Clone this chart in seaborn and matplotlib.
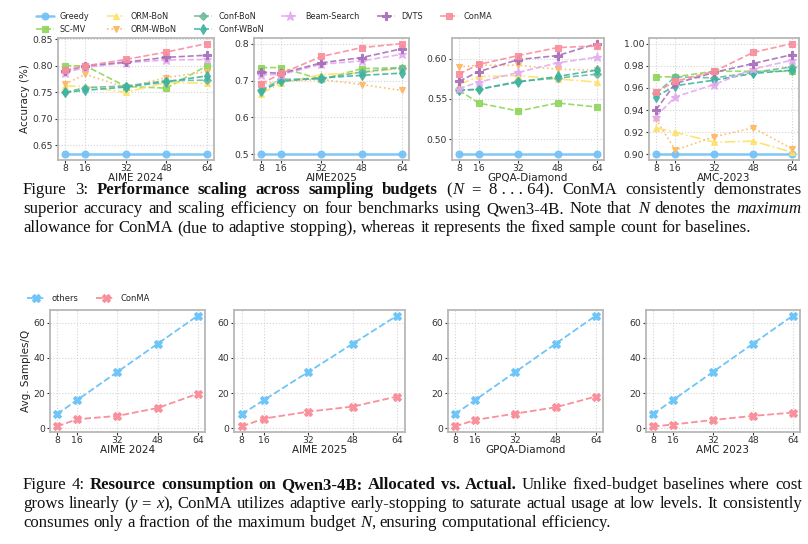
import matplotlib
matplotlib.use("Agg")
import matplotlib.pyplot as plt
import seaborn as sns

# ---------------- data ----------------
budgets = [8, 16, 32, 48, 64]
methods = ["Greedy", "SC-MV", "ORM-BoN", "ORM-WBoN", "Conf-BoN",
           "Conf-WBoN", "Beam-Search", "DVTS", "ConMA"]

acc_aime24 = [
    [0.633, 0.633, 0.633, 0.633, 0.633],
    [0.800, 0.800, 0.761, 0.758, 0.800],
    [0.762, 0.761, 0.750, 0.769, 0.767],
    [0.766, 0.784, 0.759, 0.778, 0.789],
    [0.750, 0.759, 0.762, 0.772, 0.773],
    [0.750, 0.754, 0.760, 0.770, 0.781],
    [0.787, 0.797, 0.806, 0.811, 0.812],
    [0.790, 0.800, 0.807, 0.816, 0.820],
    [0.792, 0.800, 0.812, 0.826, 0.842],
]
acc_aime25 = [
    [0.500, 0.500, 0.500, 0.500, 0.500],
    [0.735, 0.735, 0.703, 0.732, 0.735],
    [0.664, 0.694, 0.716, 0.721, 0.733],
    [0.690, 0.698, 0.703, 0.689, 0.673],
    [0.674, 0.703, 0.705, 0.723, 0.735],
    [0.671, 0.698, 0.707, 0.714, 0.720],
    [0.716, 0.716, 0.744, 0.753, 0.771],
    [0.723, 0.719, 0.748, 0.762, 0.786],
    [0.691, 0.719, 0.765, 0.789, 0.800],
]
acc_gpqa = [
    [0.481, 0.481, 0.481, 0.481, 0.481],
    [0.561, 0.545, 0.535, 0.545, 0.540],
    [0.568, 0.578, 0.579, 0.575, 0.571],
    [0.590, 0.592, 0.592, 0.587, 0.586],
    [0.561, 0.562, 0.572, 0.576, 0.581],
    [0.561, 0.562, 0.571, 0.578, 0.586],
    [0.563, 0.571, 0.583, 0.595, 0.602],
    [0.572, 0.584, 0.599, 0.604, 0.619],
    [0.581, 0.593, 0.604, 0.614, 0.616],
]
acc_amc = [
    [0.900, 0.900, 0.900, 0.900, 0.900],
    [0.970, 0.970, 0.975, 0.975, 0.975],
    [0.924, 0.920, 0.911, 0.912, 0.902],
    [0.932, 0.904, 0.916, 0.924, 0.905],
    [0.955, 0.970, 0.969, 0.974, 0.979],
    [0.952, 0.962, 0.967, 0.973, 0.976],
    [0.934, 0.952, 0.963, 0.977, 0.985],
    [0.940, 0.964, 0.974, 0.982, 0.990],
    [0.956, 0.966, 0.975, 0.992, 1.000],
]
top_titles = ["AIME 2024", "AIME2025", "GPQA-Diamond", "AMC-2023"]

others_samples = [8, 16, 32, 48, 64]
conma_aime24 = [1.0, 5.1, 7.0, 11.5, 19.6]
conma_aime25 = [1.0, 5.5, 9.4, 12.3, 18.0]
conma_gpqa = [1.0, 4.7, 8.3, 11.9, 18.0]
conma_amc = [1.0, 2.1, 4.7, 7.0, 8.9]
bottom_titles = ["AIME 2024", "AIME 2025", "GPQA-Diamond", "AMC 2023"]

# ---------------- style ----------------
colors = ["#74c2f6", "#8fd65a", "#fde26a", "#fdb862", "#6fb99b",
          "#3db3a2", "#e4aaee", "#a86fba", "#fa8d9d"]
markers = ["o", "s", "^", "v", "D", "d", "*", "P", "s"]
lstyles = ["-", "--", "-.", ":", "--", "--", "--", "--", "--"]
msizes = [5, 5, 5, 5, 4.5, 5.5, 6.5, 6, 5]

sns.set_theme(style="whitegrid")
plt.rcParams.update({
    "font.family": ["DejaVu Sans"],
    "axes.edgecolor": "#b8b8b8",
    "axes.linewidth": 1.3,
    "grid.color": "#d4d4d4",
    "grid.linestyle": ":",
    "grid.linewidth": 0.8,
    "xtick.labelsize": 6.7,
    "ytick.labelsize": 6.7,
    "xtick.color": "#333333",
    "ytick.color": "#333333",
    "xtick.bottom": True,
    "ytick.left": True,
    "xtick.major.size": 2.0,
    "ytick.major.size": 2.0,
    "xtick.major.width": 0.8,
    "ytick.major.width": 0.8,
    "xtick.major.pad": 1.0,
    "ytick.major.pad": 1.5,
    "axes.labelcolor": "#222222",
    "axes.labelsize": 7.5,
})

W, H = 808, 544
fig = plt.figure(figsize=(W / 100, H / 100), dpi=100)


def box(l, t, r, b):
    return [l / W, 1 - b / H, (r - l) / W, (b - t) / H]


top_boxes = [(58, 38, 214, 160), (254, 38, 409, 160),
             (452, 38, 604, 160), (649, 38, 799, 160)]
bot_boxes = [(50, 310, 205, 432), (234, 310, 405, 432),
             (448, 310, 603, 432), (646, 310, 800, 432)]

top_data = [acc_aime24, acc_aime25, acc_gpqa, acc_amc]
top_handles = None
for k, (bx, data, title) in enumerate(zip(top_boxes, top_data, top_titles)):
    ax = fig.add_axes(box(*bx))
    for i, name in enumerate(methods):
        sns.lineplot(x=budgets, y=data[i], ax=ax, color=colors[i],
                     marker=markers[i], linestyle=lstyles[i],
                     linewidth=1.8 if i == 0 else 1.2,
                     markersize=msizes[i], mec=colors[i], mew=0.8,
                     alpha=0.9, label=name)
    ax.set_xticks(budgets)
    ax.set_xlabel(title, labelpad=0)
    if k == 0:
        ax.set_ylabel("Accuracy (%)", labelpad=2)
        top_handles = ax.get_legend_handles_labels()
    ax.legend_.remove()

fig.legend(*top_handles, loc="upper left", bbox_to_anchor=(36 / W, 1 - 12 / H),
           ncol=6, frameon=False, fontsize=5.9, handlelength=2.2,
           handletextpad=0.7, columnspacing=2.15, labelspacing=0.5,
           borderaxespad=0, borderpad=0)

bot_data = [conma_aime24, conma_aime25, conma_gpqa, conma_amc]
bot_handles = None
for k, (bx, data, title) in enumerate(zip(bot_boxes, bot_data, bottom_titles)):
    ax = fig.add_axes(box(*bx))
    sns.lineplot(x=budgets, y=others_samples, ax=ax, color="#6ec5f8",
                 marker="X", linestyle="--", linewidth=1.3, markersize=6,
                 mec="#6ec5f8", mew=0.8, label="others")
    sns.lineplot(x=budgets, y=data, ax=ax, color="#f9909c",
                 marker="X", linestyle="--", linewidth=1.3, markersize=6,
                 mec="#f9909c", mew=0.8, label="ConMA")
    ax.set_xticks(budgets)
    ax.set_yticks([0, 20, 40, 60])
    ax.set_xlabel(title, labelpad=0)
    if k == 0:
        ax.set_ylabel("Avg. Samples/Q", labelpad=2)
        bot_handles = ax.get_legend_handles_labels()
    ax.legend_.remove()

fig.legend(*bot_handles, loc="upper left", bbox_to_anchor=(27 / W, 1 - 294 / H),
           ncol=2, frameon=False, fontsize=6.0, handlelength=2.2,
           handletextpad=0.7, columnspacing=2.2,
           borderaxespad=0, borderpad=0)

# ---------------- captions ----------------
N, B, I = "n", "b", "i"
NB = "\u00a0"
cap3 = [
    ([("Figure 3: ", N), ("Performance scaling across sampling budgets", B),
      (" (", N), ("N", I), (" = 8" + NB + "." + NB + "." + NB + "." + NB + "64).", N),
      (" ConMA consistently demonstrates", N)], True),
    ([("superior accuracy and scaling efficiency on four benchmarks using Qwen3-4B. Note that ", N),
      ("N", I), (" denotes the ", N), ("maximum", I)], True),
    ([("allowance for ConMA (due to adaptive stopping), whereas it represents the fixed sample count for baselines.", N)], False),
]
cap4 = [
    ([("Figure 4: ", N), ("Resource consumption on Qwen3-4B: Allocated vs. Actual.", B),
      (" Unlike fixed-budget baselines where cost", N)], True),
    ([("grows linearly (", N), ("y", I), (" = ", N), ("x", I),
      ("), ConMA utilizes adaptive early-stopping to saturate actual usage at low levels. It consistently", N)], True),
    ([("consumes only a fraction of the maximum budget ", N), ("N", I),
      (", ensuring computational efficiency.", N)], False),
]

CAP_FONT = ["Liberation Serif", "DejaVu Serif"]
CAP_SIZE = 12.1
X0, X1 = 23, 802
renderer = fig.canvas.get_renderer()


def make_text(s, st):
    return fig.text(0, 0, s, fontsize=CAP_SIZE, family=CAP_FONT,
                    weight="bold" if st == B else "normal",
                    style="italic" if st == I else "normal",
                    va="baseline", ha="left", color="#111111")


def width_of(t):
    return t.get_window_extent(renderer=renderer).width


_probe1 = make_text("a a", N)
_probe2 = make_text("aa", N)
SPACE = width_of(_probe1) - width_of(_probe2)
_probe1.remove()
_probe2.remove()


def to_words(runs):
    words = [[]]
    for txt, st in runs:
        parts = txt.split(" ")
        for j, p in enumerate(parts):
            if j > 0:
                words.append([])
            if p:
                words[-1].append((p, st))
    return [w for w in words if w]


def draw_line(runs, justify, ybase):
    words = to_words(runs)
    objs, wwidths = [], []
    for w in words:
        row, tot = [], 0
        for s, st in w:
            t = make_text(s, st)
            wd = width_of(t)
            row.append((t, wd))
            tot += wd
        objs.append(row)
        wwidths.append(tot)
    if justify and len(words) > 1:
        gap = (X1 - X0 - sum(wwidths)) / (len(words) - 1)
    else:
        gap = SPACE
    x = X0
    for row, tot in zip(objs, wwidths):
        xx = x
        for t, wd in row:
            t.set_position((xx / W, 1 - ybase / H))
            xx += wd
        x += tot + gap


for j, (runs, just) in enumerate(cap3):
    draw_line(runs, just, 194 + 19 * j)
for j, (runs, just) in enumerate(cap4):
    draw_line(runs, just, 489 + 19 * j)

fig.savefig("out.png", dpi=100)
